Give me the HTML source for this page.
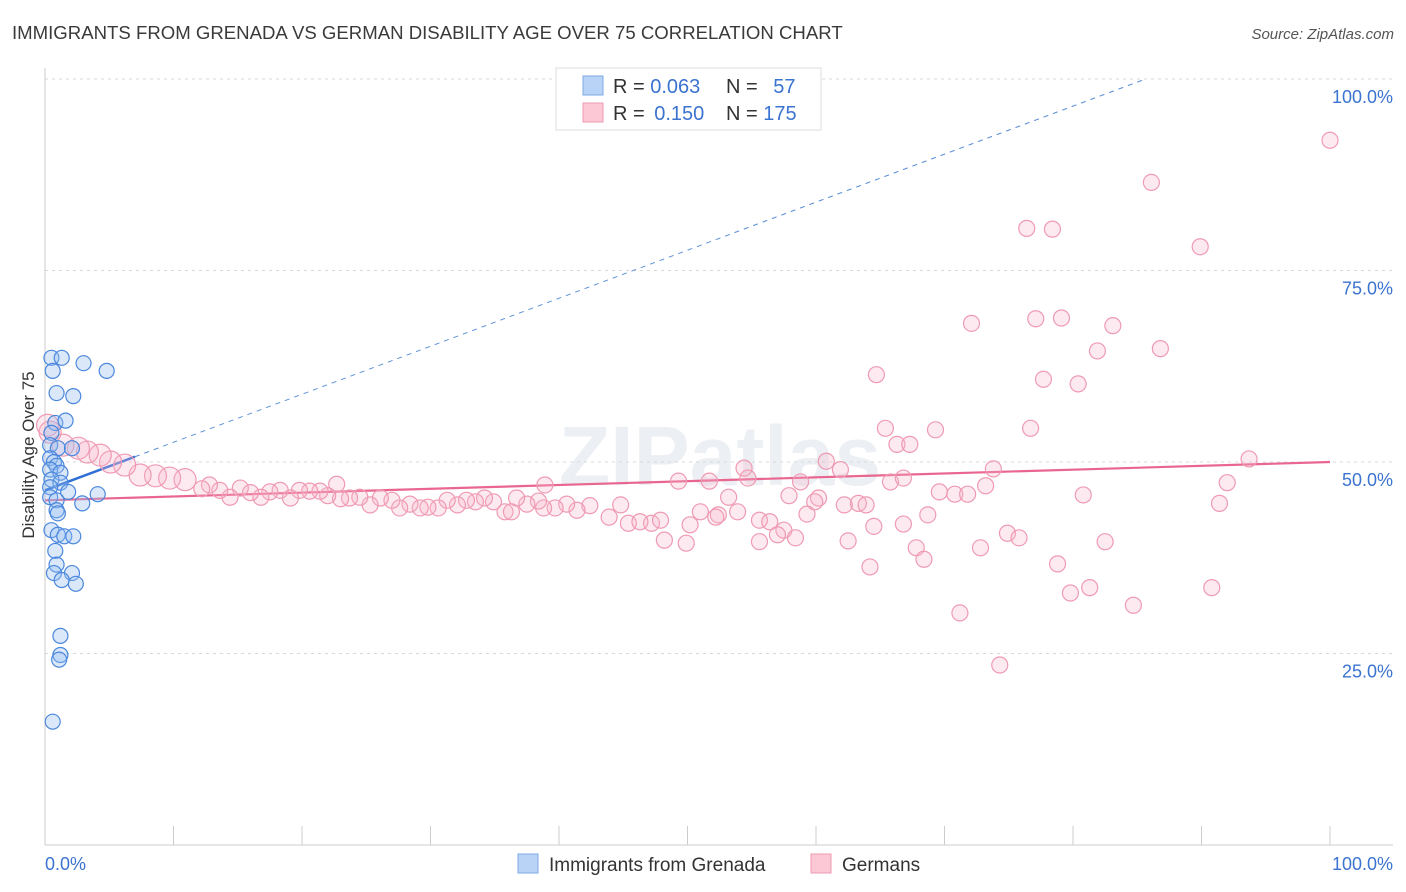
<!DOCTYPE html>
<html><head><meta charset="utf-8">
<style>
body{margin:0;background:#fff;font-family:"Liberation Sans",sans-serif;}
svg{display:block}
</style></head>
<body>
<svg id="chart" width="1406" height="892" xmlns="http://www.w3.org/2000/svg">
<text x="12" y="39" font-size="18.6" fill="#3a3a3a">IMMIGRANTS FROM GRENADA VS GERMAN DISABILITY AGE OVER 75 CORRELATION CHART</text>
<text x="1394" y="39" font-size="15" fill="#555" font-style="italic" text-anchor="end">Source: ZipAtlas.com</text>
<text x="720" y="485" font-size="84" fill="#eceff3" text-anchor="middle" font-weight="bold">ZIPatlas</text>
<g id="grid"></g>
<g id="axes"></g>
<g id="trends"></g>
<g id="pts"></g>
<text transform="translate(34,455) rotate(-90)" font-size="17" fill="#333" text-anchor="middle">Disability Age Over 75</text>
<g>
<rect x="556" y="68" width="265" height="62" fill="#fff" stroke="#ddd"/>
<rect x="583" y="76" width="20" height="19" fill="#b8d3f5" stroke="#7fa9e3"/>
<rect x="583" y="103" width="20" height="19" fill="#fcc8d6" stroke="#ee9ab2"/>
<text x="613" y="93" font-size="20" fill="#333">R = <tspan fill="#3b73d0">0.063</tspan></text>
<text x="726" y="93" font-size="20" fill="#333">N = <tspan fill="#3b73d0" dx="10">57</tspan></text>
<text x="613" y="120" font-size="20" fill="#333">R = <tspan fill="#3b73d0" dx="4">0.150</tspan></text>
<text x="726" y="120" font-size="20" fill="#333">N = <tspan fill="#3b73d0">175</tspan></text>
</g>
<g>
<rect x="518" y="854" width="20" height="19" fill="#b8d3f5" stroke="#7fa9e3"/>
<text x="549" y="871" font-size="19" fill="#333">Immigrants from Grenada</text>
<rect x="811" y="854" width="20" height="19" fill="#fcc8d6" stroke="#ee9ab2"/>
<text x="842" y="871" font-size="19" fill="#333">Germans</text>
</g>
</svg>
<script>
const xTickVals=[0,10,20,30,40,50,60,70,80,90,100];
const yTickVals=[25,50,75,100];
const yTickLabels=["25.0%","50.0%","75.0%","100.0%"];
const xEndLabels=["0.0%","100.0%"];
const blueX=[0.5,1.3,3.0,4.8,0.6,0.9,2.2,0.8,1.6,0.5,0.4,1.0,2.1,0.4,0.7,0.9,0.4,1.2,0.5,1.2,0.4,1.8,4.1,0.4,0.9,2.9,0.9,1.0,0.5,1.0,1.5,2.2,0.8,0.9,0.7,2.1,1.3,2.4,1.2,1.2,1.1,0.6];
const blueY=[63.6,63.6,62.9,61.9,61.9,59,58.6,55.1,55.4,53.8,52.2,51.8,51.8,50.5,50,49.5,49,48.6,47.7,47.3,46.7,46.1,45.8,45.4,45,44.6,43.7,43.3,41.1,40.5,40.3,40.3,38.4,36.6,35.5,35.5,34.6,34.1,27.3,24.8,24.2,16.1];
const pinkX=[100,86.1,76.4,78.4,89.9,72.1,77.1,79.1,83.1,81.9,86.8,64.7,77.7,80.4,65.4,69.3,76.7,66.3,67.3,60.8,61.9,54.4,54.7,58.8,65.8,73.8,93.7,92.0,73.2,69.6,70.8,71.8,80.8,91.4,38.9,49.3,51.7,53.2,57.9,60.2,59.9,63.3,63.9,68.7,59.3,53.9,52.4,51.0,55.6,56.4,57.5,58.4,55.6,57.0,52.2,47.2,47.9,45.4,46.3,48.2,49.9,50.2,44.8,43.9,42.4,41.4,40.6,39.7,38.8,38.4,37.5,36.7,35.8,34.9,34.2,33.5,32.8,32.1,31.3,30.6,29.8,29.2,28.4,27.6,27.0,26.1,25.3,24.5,23.7,23.0,22.7,22.0,21.4,20.6,19.8,19.1,18.3,17.5,16.8,16.0,15.2,14.4,13.6,12.8,12.2,10.9,9.7,8.6,7.4,6.2,5.1,4.3,3.3,2.6,1.4,0.4,0.2,36.3,62.5,64.5,66.8,67.8,68.4,64.2,71.2,72.8,74.9,75.8,78.8,79.8,81.3,82.5,84.7,90.8,74.3,62.2,66.8];
const pinkY=[92.0,86.5,80.5,80.4,78.1,68.1,68.7,68.8,67.8,64.5,64.8,61.4,60.8,60.2,54.4,54.2,54.4,52.3,52.3,50.1,49.0,49.2,47.9,47.4,47.4,49.1,50.4,47.3,46.9,46.1,45.8,45.8,45.7,44.6,47.0,47.5,47.5,45.4,45.6,45.3,44.8,44.6,44.4,43.1,43.2,43.5,43.1,43.5,42.4,42.2,41.1,40.1,39.6,40.5,42.8,42.0,42.4,42.0,42.2,39.8,39.4,41.8,44.4,42.8,44.3,43.7,44.5,44.0,44.0,44.9,44.5,45.3,43.5,44.8,45.3,44.8,45.0,44.4,45.0,44.0,44.1,44.0,44.5,44.0,45.0,45.3,44.4,45.4,45.3,45.2,47.1,45.6,46.2,46.2,46.3,45.3,46.3,46.1,45.4,46.0,46.6,45.4,46.3,47.0,46.5,47.7,47.9,48.2,48.3,49.6,50.0,50.9,51.3,51.8,52.2,53.9,54.8,43.5,39.7,41.6,41.9,38.8,37.3,36.3,30.3,38.8,40.7,40.1,36.7,32.9,33.6,39.6,31.3,33.6,23.5,44.4,47.9];
const blueTrend=[46.3,0.627];
const pinkTrend=[45.0,50.0];
const NS="http://www.w3.org/2000/svg";
const sx=v=>45+v*12.85, sy=v=>845-v*7.66;
function mk(tag,attrs,parent){const e=document.createElementNS(NS,tag);for(const k in attrs)e.setAttribute(k,attrs[k]);parent.appendChild(e);return e;}
const grid=document.getElementById('grid'),axes=document.getElementById('axes'),tr=document.getElementById('trends'),pts=document.getElementById('pts');
yTickVals.forEach((v,i)=>{
 const l=mk('line',{x1:45,x2:1393,y1:sy(v),y2:sy(v),stroke:'#d8d8d8','stroke-dasharray':'3,4'},grid);
 
 
 const t=mk('text',{x:1393,y:sy(v)+24,'font-size':18,fill:'#3b73d0','text-anchor':'end'},axes);
 t.textContent=yTickLabels[i];
 
 
});
mk('line',{x1:45,x2:45,y1:68,y2:845,stroke:'#ccc'},axes);
mk('line',{x1:45,x2:1393,y1:845,y2:845,stroke:'#ccc'},axes);
xTickVals.forEach(v=>{const l=mk('line',{x1:sx(v),x2:sx(v),y1:826,y2:845,stroke:'#ccc'},axes);
 
 });
let t0=mk('text',{x:45,y:870,'font-size':18,fill:'#3b73d0'},axes);t0.textContent=xEndLabels[0];


let t1=mk('text',{x:1393,y:870,'font-size':18,fill:'#3b73d0','text-anchor':'end'},axes);t1.textContent=xEndLabels[1];


pinkX.forEach((x,i)=>{const r=x<12?11:8;
 const c=mk('circle',{cx:sx(x),cy:sy(pinkY[i]),r:r,fill:'rgba(248,180,200,0.28)',stroke:'#ef9ab3','stroke-width':1.2},pts);
 
 });
blueX.forEach((x,i)=>{
 const c=mk('circle',{cx:sx(x),cy:sy(blueY[i]),r:7.5,fill:'rgba(150,190,240,0.35)',stroke:'#4a87dc','stroke-width':1.2},pts);
 
 });
const xEnd=(100-blueTrend[0])/blueTrend[1];
const d=mk('line',{x1:sx(7),y1:sy(blueTrend[0]+blueTrend[1]*7),x2:sx(xEnd),y2:sy(100),stroke:'#5a8fd8','stroke-width':1,'stroke-dasharray':'5,5'},tr);


const s=mk('line',{x1:sx(0),y1:sy(blueTrend[0]),x2:sx(7),y2:sy(blueTrend[0]+blueTrend[1]*7),stroke:'#2f6fd6','stroke-width':2.5},tr);


const p=mk('line',{x1:sx(0),y1:sy(pinkTrend[0]),x2:sx(100),y2:sy(pinkTrend[1]),stroke:'#e8668f','stroke-width':2.2},tr);


</script>
</body></html>
